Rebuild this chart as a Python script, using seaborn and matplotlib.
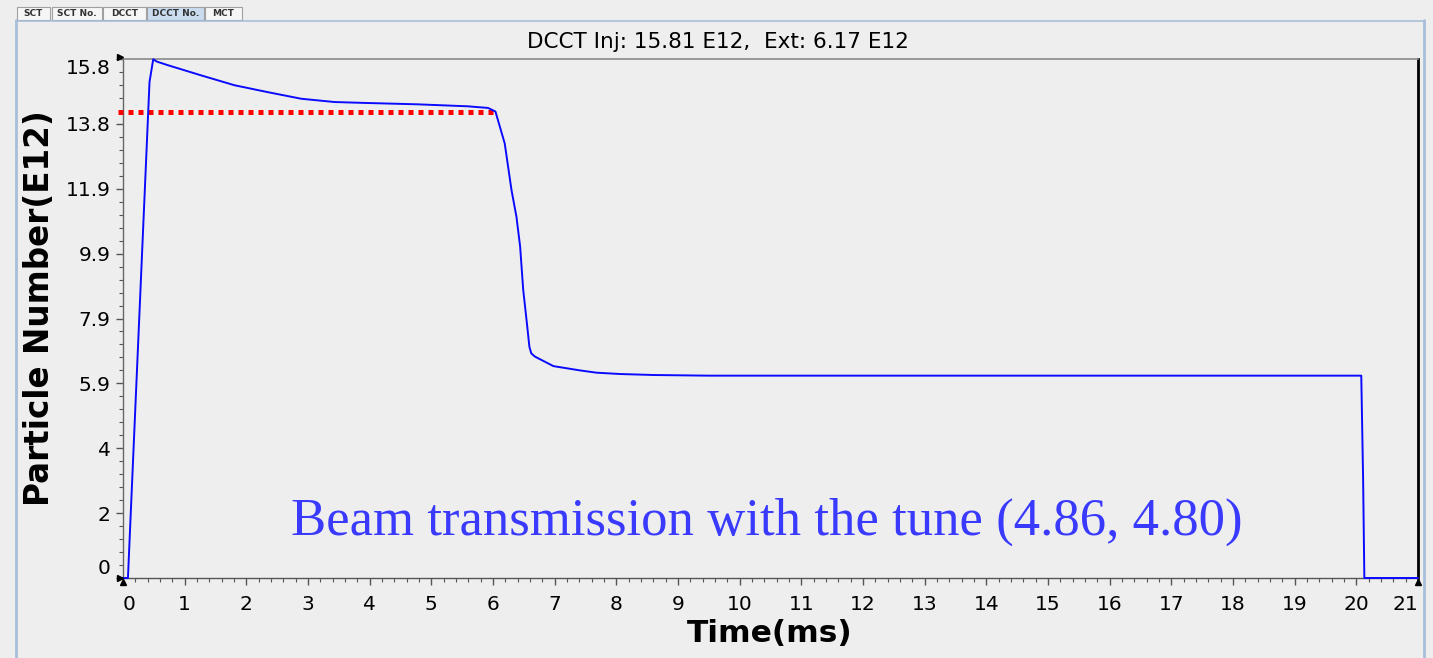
import numpy as np
import pandas as pd
import matplotlib
matplotlib.use("Agg")
import matplotlib.pyplot as plt
import seaborn as sns
from matplotlib.ticker import FixedLocator, AutoMinorLocator, FixedFormatter
from matplotlib.patches import Rectangle
from matplotlib.lines import Line2D
import matplotlib.transforms as mtransforms

# ---------------- data ----------------
time_ms = [0.00, 0.08, 0.43, 0.49, 0.55, 0.73, 1.27, 1.81, 2.35, 2.89, 3.43, 3.97,
           4.78, 5.59, 5.92, 6.04, 6.19, 6.30, 6.38, 6.44, 6.49, 6.55, 6.59, 6.62,
           6.68, 6.98, 7.41, 7.68, 8.06, 8.60, 9.50, 20.08, 20.11, 20.13, 21.00]
particles_e12 = [0.00, 0.00, 15.10, 15.79, 15.72, 15.61, 15.30, 15.00, 14.79, 14.59, 14.49, 14.46,
                 14.42, 14.36, 14.31, 14.20, 13.23, 11.81, 11.00, 10.09, 8.77, 7.75, 7.04, 6.84,
                 6.74, 6.45, 6.32, 6.25, 6.21, 6.18, 6.16, 6.16, 3.00, 0.00, 0.00]

ref_time_ms = [-0.08, 6.05]
ref_level_e12 = [14.19, 14.19]

y_ticks = [0, 1.975, 3.95, 5.925, 7.9, 9.875, 11.85, 13.825, 15.8]
y_tick_labels = ["0", "2", "4", "5.9", "7.9", "9.9", "11.9", "13.8", "15.8"]
x_ticks = list(range(0, 22))
x_tick_labels = [str(v) for v in x_ticks]

title_text = "DCCT Inj: 15.81 E12,  Ext: 6.17 E12"
note_text = "Beam transmission with the tune (4.86, 4.80)"
tab_names = ["SCT", "SCT No.", "DCCT", "DCCT No.", "MCT"]
active_tab = "DCCT No."

# ---------------- figure ----------------
sns.set_style("white")
plt.rcParams["font.family"] = ["DejaVu Sans"]
plt.rcParams["text.color"] = "black"

W, H = 1433, 658
BG = "#eeeeee"
fig = plt.figure(figsize=(W / 100, H / 100), dpi=100, facecolor=BG)


def fx(px):
    return px / W


def fy(py):
    return 1 - py / H


ax_l, ax_r, ax_t, ax_b = 123, 1418, 59, 578
ax = fig.add_axes([fx(ax_l), fy(ax_b), fx(ax_r - ax_l), (ax_b - ax_t) / H])
ax.set_facecolor(BG)

df = pd.DataFrame({"t": time_ms, "n": particles_e12})
sns.lineplot(data=df, x="t", y="n", ax=ax, sort=False, estimator=None,
             color="#0a0aff", linewidth=1.4, clip_on=False, zorder=5)

ref = pd.DataFrame({"t": ref_time_ms, "n": ref_level_e12})
sns.lineplot(data=ref, x="t", y="n", ax=ax, sort=False, estimator=None,
             color="#ff0000", linewidth=3.6, linestyle=(0, (1, 1)),
             clip_on=False, zorder=4)
for ln in ax.get_lines():
    if ln.get_color() == "#ff0000":
        ln.set_dash_capstyle("butt")

ax.set_xlim(0, 21)
ax.set_ylim(0, 15.8)
ax.set_xlabel("")
ax.set_ylabel("")

ax.xaxis.set_major_locator(FixedLocator(x_ticks))
ax.xaxis.set_major_formatter(FixedFormatter(x_tick_labels))
ax.xaxis.set_minor_locator(AutoMinorLocator(5))
ax.yaxis.set_major_locator(FixedLocator(y_ticks))
ax.yaxis.set_major_formatter(FixedFormatter(y_tick_labels))
ax.yaxis.set_minor_locator(AutoMinorLocator(5))

ax.tick_params(axis="both", which="major", direction="out", length=5, width=1,
               color="#555555", labelsize=14.5, labelcolor="black")
ax.tick_params(axis="both", which="minor", direction="out", length=3, width=0.8,
               color="#555555")
ax.tick_params(axis="x", which="both", bottom=True, top=False, pad=7)
ax.tick_params(axis="y", which="both", left=True, right=False, pad=4)

# edge tick labels kept inside the axis range
fig.canvas.draw()
xl = ax.get_xticklabels()
xl[0].set_horizontalalignment("left")
xl[-1].set_horizontalalignment("right")
yl = ax.get_yticklabels()
yl[0].set_verticalalignment("bottom")
yl[-1].set_verticalalignment("top")

for side, col, lw in [("top", "#888888", 1.2), ("left", "#666666", 1.0),
                      ("bottom", "#555555", 1.0), ("right", "#000000", 2.0)]:
    ax.spines[side].set_visible(True)
    ax.spines[side].set_color(col)
    ax.spines[side].set_linewidth(lw)

# small arrow heads at axis ends
def corner_marker(x, y, marker, dx, dy):
    off = mtransforms.ScaledTranslation(dx / 100, dy / 100, fig.dpi_scale_trans)
    ax.plot([x], [y], marker=marker, color="black", markersize=5,
            transform=ax.transAxes + off, clip_on=False, zorder=10)

corner_marker(0, 1, ">", -3, 2)
corner_marker(0, 0, ">", -3, 0)
corner_marker(0, 0, "^", 0, -4)
corner_marker(1, 0, "^", 0, -4)

# texts
fig.text(fx(718), fy(42), title_text, ha="center", va="center", fontsize=15.5,
         color="black")
fig.text(fx(40), fy(308), "Particle Number(E12)", rotation=90, ha="center",
         va="center", fontsize=23.5, fontweight="bold", color="black")
fig.text(fx(770), fy(633), "Time(ms)", ha="center", va="center", fontsize=22.5,
         fontweight="bold", color="black")
fig.text(fx(767), fy(522), note_text, ha="center", va="center", fontsize=38,
         family=["Liberation Serif", "DejaVu Serif"], color="#3a3aff")

# panel frame and tabs
frame_col = "#a8bedb"
fig.add_artist(Line2D([fx(16), fx(16)], [fy(20), fy(658)], color=frame_col, lw=2))
fig.add_artist(Line2D([fx(1424), fx(1424)], [fy(20), fy(658)], color=frame_col, lw=2))
fig.add_artist(Line2D([fx(16), fx(1424)], [fy(20.5), fy(20.5)], color=frame_col, lw=1.2))

tab_x = [(17, 50), (52, 102), (103, 146), (147, 204), (205, 242)]
for name, (x0, x1) in zip(tab_names, tab_x):
    fc = "#cadcf0" if name == active_tab else "#f6f6f6"
    fig.add_artist(Rectangle((fx(x0), fy(20)), fx(x1 - x0), (20 - 7) / H,
                             facecolor=fc, edgecolor="#a0a0a0", lw=0.8))
    fig.text(fx((x0 + x1) / 2), fy(14), name, ha="center", va="center",
             fontsize=6.5, color="#333333", fontweight="bold")

fig.savefig("out.png", dpi=100, facecolor=BG)
